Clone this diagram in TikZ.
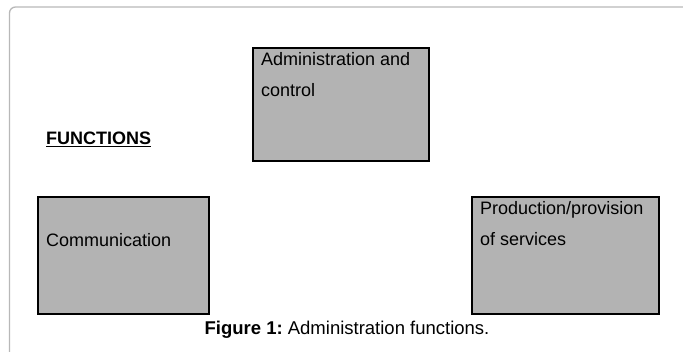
\documentclass[tikz,border=0pt]{standalone}
\usepackage{fontspec}
\setmainfont{Liberation Sans}
\usetikzlibrary{positioning}

\definecolor{boxgray}{HTML}{B3B3B3}
\definecolor{framegray}{HTML}{B8B8B8}

\begin{document}
\begin{tikzpicture}[x=1pt, y=-1pt,
    func/.style={draw=black, line width=2pt, fill=boxgray, inner sep=0pt, anchor=north west},
    txt/.style={inner sep=0pt, anchor=base west, align=left,
      font=\fontsize{18}{31}\selectfont}]
  \useasboundingbox (0,0) rectangle (683,352);

  % Marco de la figura
  \draw[framegray, line width=1.3pt, rounded corners=6pt]
    (9.5,380) -- (9.5,7) -- (690,7);

  % Cajas de funciones
  \node[func, minimum width=176pt, minimum height=113pt] (admin) at (252,47) {};
  \node[func, minimum width=171pt, minimum height=117pt] (comm) at (37,196) {};
  \node[func, minimum width=187pt, minimum height=117pt] (prod) at (471,196) {};

  % Textos (base = ultima linea)
  \node[txt] (admintxt) at (261,97) {Administration and\\control};
  \node[txt] (commtxt) at (46,247) {Communication};
  \node[txt] (prodtxt) at (480,246) {Production/provision\\of services};

  \node[txt, font=\fontsize{18}{22}\selectfont\bfseries] (titulo) at (46,145) {\underline{FUNCTIONS}};

  % Pie
  \node[inner sep=0pt, anchor=base, font=\fontsize{18.5}{20}\selectfont] (pie) at (347,335)
    {\textbf{Figure 1:}~Administration functions.};
\end{tikzpicture}
\end{document}
